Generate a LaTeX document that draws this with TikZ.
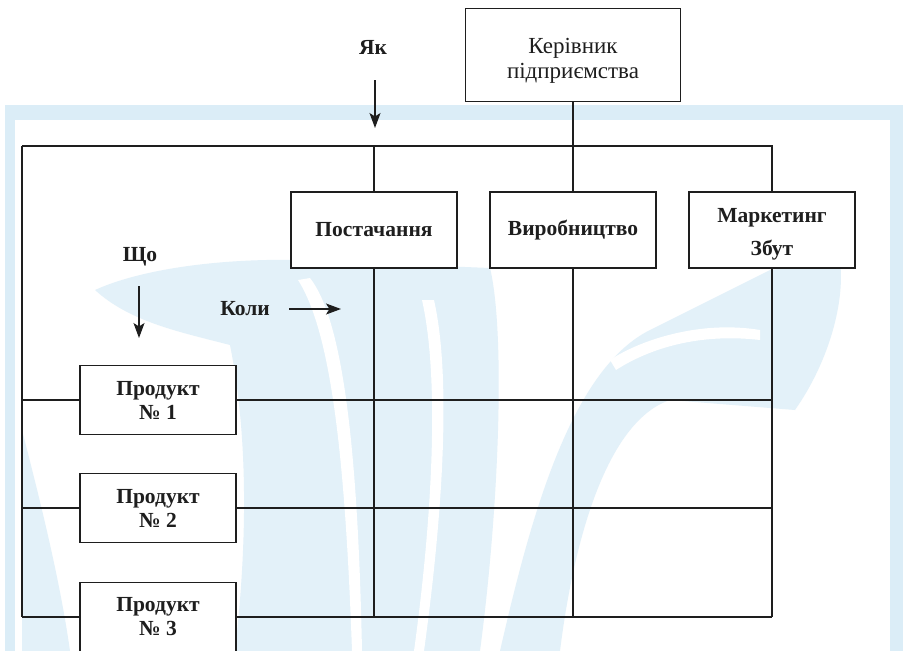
\documentclass[tikz,border=0pt]{standalone}
\usepackage{fontspec}
\setmainfont{Liberation Serif}
\usetikzlibrary{arrows.meta}
\definecolor{wmband}{HTML}{DBEDF7}
\definecolor{wmlight}{HTML}{E3F1F9}
\definecolor{ink}{HTML}{1E1E1E}
\newcommand{\twolines}[3]{\raisebox{#1}[\height][\depth]{\begin{tabular}{@{}c@{}}#2\\#3\end{tabular}}}
\begin{document}
\begin{tikzpicture}[x=1pt,y=-1pt,
  line/.style={draw=ink,line width=1.3pt},
  arr/.style={draw=ink,line width=1.3pt,-{Stealth[length=15pt,width=11pt,inset=3.5pt]}},
  lbl/.style={font=\bfseries\fontsize{21.5}{24}\selectfont,text=ink,inner sep=0pt},
  bigbox/.style={draw=ink,line width=1.3pt,fill=white,minimum width=215pt,minimum height=93pt,align=center,inner sep=0pt,text=ink,font=\fontsize{23}{25}\selectfont},
  dept/.style={draw=ink,line width=1.3pt,fill=white,minimum width=166pt,minimum height=76pt,align=center,inner sep=0pt,text=ink,font=\bfseries\fontsize{21.5}{33}\selectfont},
  prod/.style={draw=ink,line width=1.3pt,fill=white,minimum width=156pt,minimum height=69pt,align=center,inner sep=0pt,text=ink,font=\bfseries\fontsize{21.5}{24}\selectfont}]
\useasboundingbox (0,0) rectangle (903,651);
% watermark background
\fill[wmband] (5,105) rectangle (903,651);
\fill[white] (15,120) rectangle (890,651);
% left wing and central mass
\fill[wmlight] (95,290) .. controls (150,265) and (250,255) .. (340,262) -- (490,268)
  .. controls (505,330) and (500,500) .. (480,651) -- (235,651)
  .. controls (250,520) and (245,420) .. (230,345) .. controls (180,332) and (130,322) .. (95,290) -- cycle;
% white stripes inside central mass
\fill[white] (298,280) .. controls (330,330) and (345,450) .. (352,651) -- (362,651)
  .. controls (358,450) and (343,320) .. (310,278) -- cycle;
\fill[white] (422,300) .. controls (440,380) and (432,520) .. (414,651) -- (424,651)
  .. controls (442,520) and (452,380) .. (434,300) -- cycle;
% right stem
\fill[wmlight] (500,651) .. controls (530,520) and (570,370) .. (650,330) -- (770,270) -- (840,262)
  .. controls (845,300) and (830,360) .. (795,410) -- (670,400)
  .. controls (610,420) and (575,530) .. (560,651) -- cycle;
\fill[white] (610,360) .. controls (640,340) and (700,320) .. (760,330) -- (760,340)
  .. controls (700,333) and (650,348) .. (616,370) -- cycle;
% left lower band
\fill[wmlight] (22,430) .. controls (40,500) and (60,580) .. (70,651) -- (22,651) -- cycle;
% nodes
\node[bigbox] (boss) at (573,55) {\twolines{-6pt}{Керівник}{підприємства}};
\node[dept] (post) at (374,230) {Постачання};
\node[dept] (vyr) at (573,230) {Виробництво};
\node[dept] (mark) at (772,230) {\twolines{-2pt}{Маркетинг}{Збут}};
\node[prod] (p1) at (158,400) {Продукт\\№ 1};
\node[prod] (p2) at (158,508) {Продукт\\№ 2};
\node[prod] (p3) at (158,617) {Продукт\\№ 3};
\node[lbl] (yak) at (373,47) {Як};
\node[lbl] (shcho) at (140,257) {Що};
\node[lbl] (koly) at (245,309) {Коли};
\coordinate (tl) at (22,146);
\coordinate (tr) at (772,146);
\coordinate (yaks) at (375,80);
\coordinate (yake) at (375,128);
\coordinate (shs) at (139,286);
\coordinate (she) at (139,338);
\coordinate (kos) at (289,309);
\coordinate (koe) at (341,309);
% connectors
\draw[line] (boss.south) -- (boss.south |- tl);
\draw[line] (tl) -- (tr) -- (mark.north);
\draw[line] (post.north) -- (post.north |- tl);
\draw[line] (vyr.north) -- (vyr.north |- tl);
\draw[line] (tl) -- (tl |- p3.west);
\draw[line] (post.south) -- (post.south |- p3.east);
\draw[line] (vyr.south) -- (vyr.south |- p3.east);
\draw[line] (mark.south) -- (mark.south |- p3.east);
\draw[line] (tl |- p1.west) -- (p1.west);
\draw[line] (tl |- p2.west) -- (p2.west);
\draw[line] (tl |- p3.west) -- (p3.west);
\draw[line] (p1.east) -- (p1.east -| mark.south);
\draw[line] (p2.east) -- (p2.east -| mark.south);
\draw[line] (p3.east) -- (p3.east -| mark.south);
\draw[arr] (yaks) -- (yake);
\draw[arr] (shs) -- (she);
\draw[arr] (kos) -- (koe);
\end{tikzpicture}
\end{document}
